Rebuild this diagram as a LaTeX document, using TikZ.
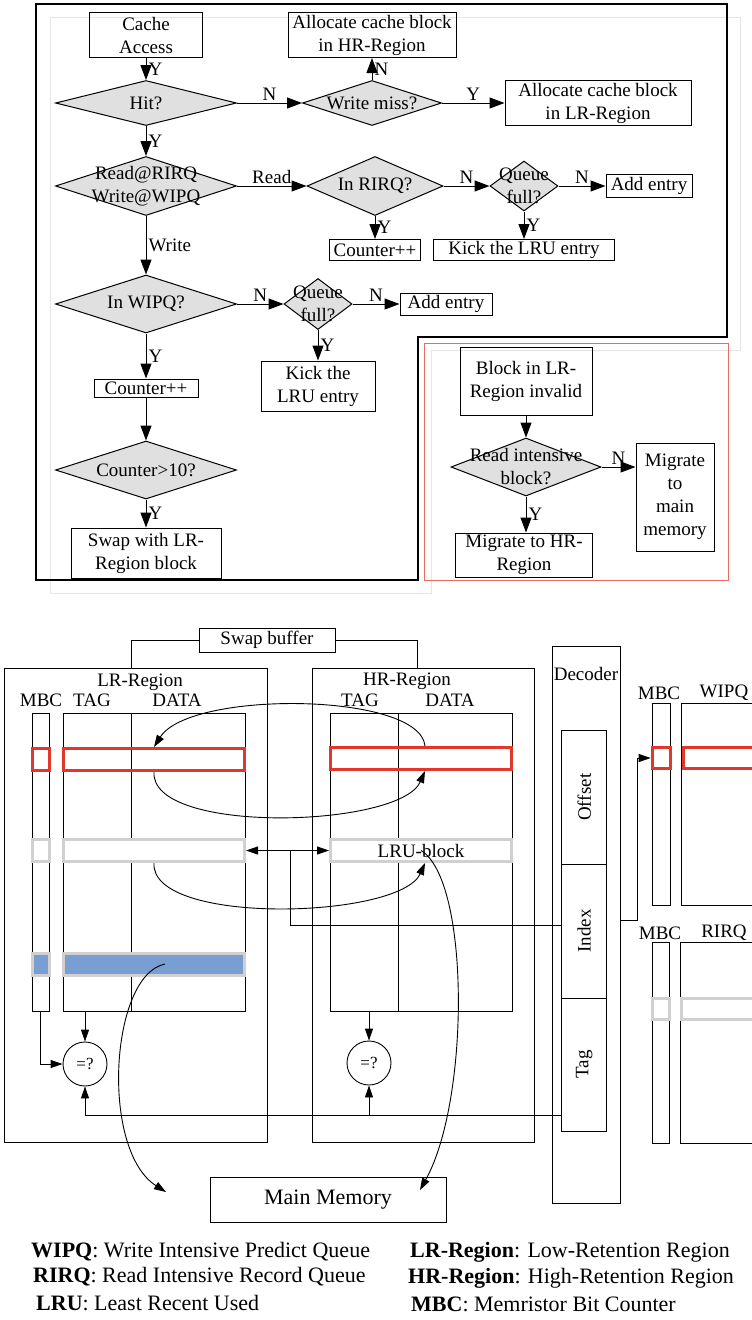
\documentclass[tikz,border=0pt]{standalone}
\usepackage{fontspec}
\setmainfont{Liberation Serif}
\usetikzlibrary{shapes.geometric,arrows.meta,positioning}

\definecolor{rowred}{HTML}{E2372C}
\definecolor{rowgray}{HTML}{D0D0D0}
\definecolor{rowblue}{HTML}{789ED2}
\definecolor{frred}{HTML}{EA6A64}
\newcommand{\flowfont}{\fontsize{19}{23}\selectfont}
\newcommand{\legfont}{\fontsize{22}{24}\selectfont}

\tikzset{
  lab/.style={font=\flowfont, inner sep=2pt},
  box/.style={draw, line width=1pt, align=center, inner sep=0pt, font=\flowfont},
  dec/.style={diamond, draw, line width=1pt, fill=black!12, inner sep=0pt},
  flowarr/.style={line width=1pt, -{Triangle[length=15pt,width=11pt]}},
  arr/.style={line width=0.9pt, -{Triangle[length=12pt,width=8pt]}},
  wire/.style={line width=0.9pt},
  row/.style={draw=#1, line width=3pt, inner sep=0pt},
  leg/.style={anchor=west, font=\legfont, inner sep=0pt}
}

\begin{document}
\begin{tikzpicture}[x=1pt, y=-1pt]
  \useasboundingbox (0,0) rectangle (752,1320);
  \clip (0,0) rectangle (752,1320);

  % flow chart frames
  \draw[black!10, line width=1pt] (50,17) -- (740,17) -- (740,350) -- (431,350) -- (431,593) -- (50,593) -- cycle;
  \draw[line width=1.3pt] (36,4) -- (727,4) -- (727,337) -- (418,337) -- (418,580) -- (36,580) -- cycle;
  \draw[frred, line width=1pt] (424,343) rectangle (728,580);

  \node[box, minimum width=113pt, minimum height=45pt] (access) at (146,35) {Cache\\Access};
  \node[dec, minimum width=181pt, minimum height=45pt, label={[lab]center:Hit?}] (hit) at (146,103) {};
  \node[dec, minimum width=139pt, minimum height=45pt, label={[lab]center:Write miss?}] (wmiss) at (372,103) {};
  \node[box, minimum width=168pt, minimum height=45pt] (allochr) at (372,35) {Allocate cache block\\in HR-Region};
  \node[box, minimum width=186pt, minimum height=45pt] (alloclr) at (598,103) {Allocate cache block\\in LR-Region};
  \node[dec, minimum width=181pt, minimum height=59pt, label={[lab, align=center]center:Read@RIRQ\\Write@WIPQ}] (rw) at (146,186) {};
  \node[dec, minimum width=136pt, minimum height=59pt, label={[lab]center:In RIRQ?}] (inrirq) at (375,186) {};
  \node[dec, minimum width=68pt, minimum height=50pt, label={[lab, align=center]center:Queue\\full?}] (qfull1) at (524,186) {};
  \node[box, minimum width=86pt, minimum height=23pt] (add1) at (649,186) {Add entry};
  \node[box, minimum width=91pt, minimum height=21pt] (cnt1) at (375,250) {Counter++};
  \node[box, minimum width=181pt, minimum height=21pt] (kick1) at (524,250) {Kick the LRU entry};
  \node[dec, minimum width=181pt, minimum height=58pt, label={[lab]center:In WIPQ?}] (inwipq) at (146,304) {};
  \node[dec, minimum width=68pt, minimum height=51pt, label={[lab, align=center]center:Queue\\full?}] (qfull2) at (318,304) {};
  \node[box, minimum width=92pt, minimum height=22pt] (add2) at (446,304) {Add entry};
  \node[box, minimum width=114pt, minimum height=50pt] (kick2) at (318,386) {Kick the\\LRU entry};
  \node[box, minimum width=104pt, minimum height=18pt] (cnt2) at (146,388) {Counter++};
  \node[dec, minimum width=181pt, minimum height=58pt, label={[lab]center:Counter>10?}] (gt10) at (146,470) {};
  \node[box, minimum width=150pt, minimum height=50pt] (swap) at (146,553) {Swap with LR-\\Region block};

  \node[box, minimum width=132pt, minimum height=68pt] (invalid) at (526,381) {Block in LR-\\Region invalid};
  \node[dec, minimum width=150pt, minimum height=58pt, label={[lab, align=center]center:Read intensive\\block?}] (rdint) at (526,467) {};
  \node[box, minimum width=78pt, minimum height=108pt] (mig) at (675,497) {Migrate\\to\\main\\memory};
  \node[box, minimum width=137pt, minimum height=44pt] (mighr) at (524,555) {Migrate to HR-\\Region};

  \draw[flowarr] (access) -- node[lab, right] {Y} (hit);
  \draw[flowarr] (hit) -- node[lab, above] {N} (wmiss);
  \draw[flowarr] (wmiss) -- node[lab, right] {N} (allochr);
  \draw[flowarr] (wmiss) -- node[lab, above] {Y} (alloclr);
  \draw[flowarr] (hit) -- node[lab, right] {Y} (rw);
  \draw[flowarr] (rw) -- node[lab, above] {Read} (inrirq);
  \draw[flowarr] (inrirq) -- node[lab, above] {N} (qfull1);
  \draw[flowarr] (qfull1) -- node[lab, above] {N} (add1);
  \draw[flowarr] (inrirq) -- node[lab, right] {Y} (cnt1);
  \draw[flowarr] (qfull1) -- node[lab, right] {Y} (kick1);
  \draw[flowarr] (rw) -- node[lab, right] {Write} (inwipq);
  \draw[flowarr] (inwipq) -- node[lab, above] {N} (qfull2);
  \draw[flowarr] (qfull2) -- node[lab, above] {N} (add2);
  \draw[flowarr] (qfull2) -- node[lab, right] {Y} (kick2);
  \draw[flowarr] (inwipq) -- node[lab, right] {Y} (cnt2);
  \draw[flowarr] (cnt2) -- (gt10);
  \draw[flowarr] (gt10) -- node[lab, right] {Y} (swap);
  \draw[flowarr] (invalid) -- (rdint);
  \draw[flowarr] (rdint.east) -- node[lab, above] {N} (rdint.east -| mig.west);
  \draw[flowarr] (rdint.south) -- node[lab, right] {Y} (rdint.south |- mighr.north);

  % cache organisation
  \node[box, minimum width=136pt, minimum height=24pt] (swapbuf) at (267,640) {Swap buffer};
  \node[draw, wire, minimum width=263pt, minimum height=474pt] (lrreg) at (135.5,905) {};
  \node[draw, wire, minimum width=222pt, minimum height=474pt] (hrreg) at (423,905) {};
  \coordinate (lrtop) at (131,668);
  \coordinate (hrtop) at (417,668);
  \draw[wire] (swapbuf.west) -| (lrtop);
  \draw[wire] (swapbuf.east) -| (hrtop);

  \node[lab] (lrname) at (140,682) {LR-Region};
  \node[lab] (lrmbclab) at (41,700) {MBC};
  \node[lab] (lrtaglab) at (92,700) {TAG};
  \node[lab] (lrdatalab) at (177,700) {DATA};
  \node[draw, wire, minimum width=17.5pt, minimum height=298pt] (lrmbc) at (40.75,862) {};
  \node[draw, wire, minimum width=182pt, minimum height=298pt] (lrarr) at (154,862) {};
  \draw[wire] (131,713) -- (131,1011);
  \node[row=rowred, minimum width=17pt, minimum height=22pt] (lrredm) at (40.75,759.5) {};
  \node[row=rowred, minimum width=181pt, minimum height=22pt] (lrred) at (154,759.5) {};
  \node[row=rowgray, fill=white, minimum width=17pt, minimum height=22pt] (lrgraym) at (40.75,850.5) {};
  \node[row=rowgray, fill=white, minimum width=181pt, minimum height=22pt] (lrgray) at (154,850.5) {};
  \node[row=rowgray, fill=rowblue, minimum width=17pt, minimum height=22pt] (lrbluem) at (40.75,964) {};
  \node[row=rowgray, fill=rowblue, minimum width=181pt, minimum height=22pt] (lrblue) at (154,964) {};

  \node[lab] (hrname) at (407,681) {HR-Region};
  \node[lab] (hrtaglab) at (360,700) {TAG};
  \node[lab] (hrdatalab) at (450,700) {DATA};
  \node[draw, wire, minimum width=182pt, minimum height=298pt] (hrarr) at (421,862) {};
  \draw[wire] (398.7,713) -- (398.7,1011);
  \node[row=rowred, minimum width=181pt, minimum height=22pt] (hrred) at (421,758.5) {};
  \node[row=rowgray, fill=white, minimum width=181pt, minimum height=22pt, font=\flowfont] (hrgray) at (421,850.5) {LRU-block};

  \node[draw, wire, circle, minimum size=44pt, inner sep=0pt, font=\fontsize{17}{17}\selectfont] (cmplr) at (85,1064) {=?};
  \node[draw, wire, circle, minimum size=44pt, inner sep=0pt, font=\fontsize{17}{17}\selectfont] (cmphr) at (369,1063) {=?};

  \node[draw, wire, minimum width=68pt, minimum height=557pt] (decoder) at (586.7,924.7) {};
  \node[lab] (decname) at (586,674) {Decoder};
  \node[draw, wire, minimum width=45pt, minimum height=133.6pt, font=\flowfont, inner sep=0pt] (offset) at (584.2,797.2) {\rotatebox{90}{Offset}};
  \node[draw, wire, minimum width=45pt, minimum height=134pt, font=\flowfont, inner sep=0pt] (index) at (584.2,931) {\rotatebox{90}{Index}};
  \node[draw, wire, minimum width=45pt, minimum height=133pt, font=\flowfont, inner sep=0pt] (tag) at (584.2,1064.5) {\rotatebox{90}{Tag}};

  \node[lab] (wmbclab) at (659,693) {MBC};
  \node[lab] (wipqlab) at (724,693) {WIPQ};
  \node[draw, wire, minimum width=18pt, minimum height=202.4pt] (wmbc) at (661.3,804.5) {};
  \draw[wire] (760,703.3) -- (681.7,703.3) -- (681.7,905.7) -- (760,905.7);
  \node[row=rowred, minimum width=18pt, minimum height=21pt] (wmbcred) at (661.2,758) {};
  \draw[rowred, line width=3pt] (760,747.5) -- (683.2,747.5) -- (683.2,768.5) -- (760,768.5);

  \node[lab] (rmbclab) at (660,933) {MBC};
  \node[lab] (rirqlab) at (724,933) {RIRQ};
  \node[draw, wire, minimum width=17pt, minimum height=201pt] (rmbc) at (660.5,1042.8) {};
  \draw[wire] (760,942.3) -- (680,942.3) -- (680,1143.3) -- (760,1143.3);
  \node[row=rowgray, fill=white, minimum width=17pt, minimum height=20.4pt] (rmbcgray) at (660.8,1009) {};
  \draw[rowgray, line width=3pt] (760,998.8) -- (681.5,998.8) -- (681.5,1019.2) -- (760,1019.2);

  \node[box, minimum width=236pt, minimum height=45pt, font=\fontsize{22}{22}\selectfont] (mainmem) at (328,1200) {Main Memory};

  \coordinate (jn) at (290,850.5);
  \coordinate (idxin) at (561.7,925);
  \coordinate (tagout) at (561.7,1115);
  \coordinate (decout) at (620.7,920);
  \coordinate (mmleft) at (166,1192);
  \coordinate (mmright) at (420,1190);

  \draw[arr] ([xshift=4pt]hrred.north) .. controls (420,692) and (190,690) .. (lrred.north);
  \draw[arr] (lrred.south) .. controls (150,835) and (400,828) .. ([xshift=4pt]hrred.south);
  \draw[arr] (lrgray.south) .. controls (150,926) and (400,919) .. ([xshift=4pt]hrgray.south);
  \draw[arr] ([xshift=11pt]lrblue.center) .. controls (110,975) and (100,1150) .. (mmleft);
  \draw[arr] (hrgray.center) .. controls (470,880) and (470,1100) .. (mmright);

  \draw[wire, {Triangle[length=12pt,width=8pt]}-{Triangle[length=12pt,width=8pt]}] (lrgray) -- (hrgray);
  \draw[wire] (jn) |- (idxin);
  \draw[arr] (decout) -- ++(16.6,0) |- (wmbcred);

  \draw[arr] (cmplr |- lrarr.south) -- (cmplr);
  \draw[arr] (lrmbc.south) |- (cmplr);
  \draw[arr] (cmphr |- hrarr.south) -- (cmphr);
  \draw[arr] (tagout) -| (cmplr);
  \draw[arr] (cmphr |- tagout) -- (cmphr);

  % legend
  \node[leg] (lgwipq) at (31,1252) {\textbf{WIPQ}: Write Intensive Predict Queue};
  \node[leg] (lgrirq) at (33,1277) {\textbf{RIRQ}: Read Intensive Record Queue};
  \node[leg] (lglru) at (36,1303) {\textbf{LRU}: Least Recent Used};
  \node[leg] (lglr) at (410,1252) {\textbf{LR-Region}: Low-Retention Region};
  \node[leg] (lghr) at (408,1278) {\textbf{HR-Region}: High-Retention Region};
  \node[leg] (lgmbc) at (411,1304) {\textbf{MBC}: Memristor Bit Counter};
\end{tikzpicture}
\end{document}
